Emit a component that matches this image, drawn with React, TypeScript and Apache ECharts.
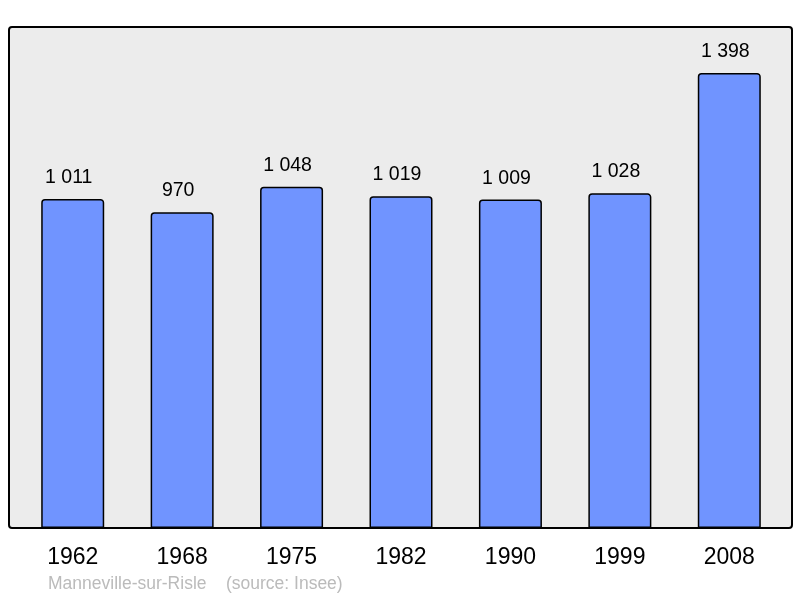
import { useEffect, useRef } from "react";
import * as echarts from "echarts";

const years = ["1962", "1968", "1975", "1982", "1990", "1999", "2008"];
const population = [1011, 970, 1048, 1019, 1009, 1028, 1398];
const footer = "Manneville-sur-Risle    (source: Insee)";

const fmt = (v: number) => {
  const s = String(v);
  return s.length > 3 ? s.slice(0, s.length - 3) + " " + s.slice(-3) : s;
};

export default function App() {
  const chartRef = useRef<HTMLDivElement>(null);

  useEffect(() => {
    if (!chartRef.current) return;
    const chart = echarts.init(chartRef.current, null, { renderer: "svg" });

    const option = {
      animation: false,
      textStyle: { fontFamily: "Liberation Sans, Arial, sans-serif" },
      grid: { left: 18, right: 16, top: 27, bottom: 70 },
      graphic: [
        {
          type: "rect",
          z: -10,
          shape: { x: 9, y: 27, width: 783, height: 501, r: 3 },
          style: { fill: "#ececec", stroke: "#000", lineWidth: 2 },
        },
        {
          type: "text",
          left: 48,
          top: 574,
          style: {
            text: footer,
            fill: "#bbbbbb",
            font: "17.5px Liberation Sans, Arial, sans-serif",
          },
        },
      ],
      xAxis: {
        type: "category",
        data: years,
        axisLine: { show: false },
        axisTick: { show: false },
        axisLabel: {
          color: "#000",
          fontSize: 23,
          margin: 16,
          fontFamily: "Liberation Sans, Arial, sans-serif",
        },
      },
      yAxis: {
        type: "value",
        min: 0,
        max: 1539,
        show: false,
        splitLine: { show: false },
      },
      series: [
        {
          type: "bar",
          data: population,
          barWidth: 63,
          itemStyle: {
            color: "#7094ff",
            borderColor: "#000",
            borderWidth: 1.5,
            borderRadius: [3, 3, 0, 0],
          },
          label: {
            show: true,
            position: "top",
            distance: 13,
            offset: [-4, 0],
            color: "#000",
            fontSize: 19.5,
            fontFamily: "Liberation Sans, Arial, sans-serif",
            formatter: (p: any) => fmt(p.value),
          },
        },
      ],
    };

    chart.setOption(option);
    return () => chart.dispose();
  }, []);

  return (
    <div
      ref={chartRef}
      style={{ position: "fixed", left: 0, top: 0, width: 800, height: 598 }}
    />
  );
}
